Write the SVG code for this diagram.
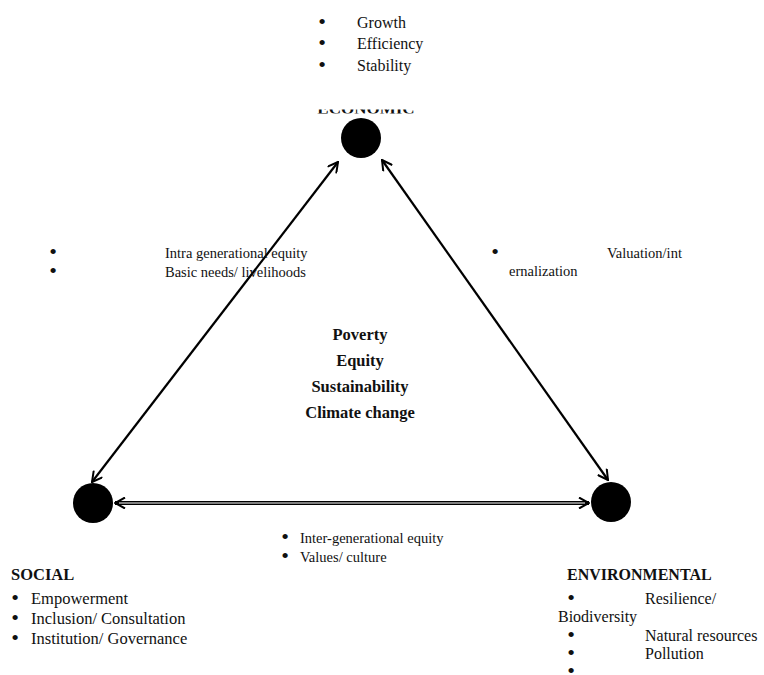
<svg xmlns="http://www.w3.org/2000/svg" width="764" height="675" viewBox="0 0 764 675">
<style>
text{font-family:"Liberation Serif","Times New Roman",serif;fill:#111}
.t16{font-size:16px}
.t14{font-size:14.5px}
.b{font-weight:bold}
.bu{font-size:22px;text-anchor:middle}
.node{fill:#000}
.conn{stroke:#000;stroke-width:2.2;fill:none}
</style>
<defs>
<marker id="ah" viewBox="0 0 12 12" refX="11" refY="6" markerWidth="12" markerHeight="12" markerUnits="userSpaceOnUse" orient="auto-start-reverse">
<path d="M1,0.5 L11,6 L1,11.5" fill="none" stroke="#000" stroke-width="2"/>
</marker>
<clipPath id="ecoClip"><rect x="300" y="109.5" width="140" height="4"/></clipPath>
</defs>
<rect width="764" height="675" fill="#fff"/>

<g id="connectors">
<line class="conn" x1="338" y1="162" x2="92" y2="482" marker-start="url(#ah)" marker-end="url(#ah)"/>
<line class="conn" x1="382" y1="160" x2="608" y2="480" marker-start="url(#ah)" marker-end="url(#ah)"/>
<line x1="115" y1="503" x2="589" y2="503" stroke="#000" stroke-width="4" marker-start="url(#ah)" marker-end="url(#ah)"/>
<line x1="119" y1="503" x2="585" y2="503" stroke="#fff" stroke-width="1.2"/>
</g>

<g id="economic">
<circle class="node" cx="361" cy="138" r="20"/>
<text class="b" x="366" y="113.5" text-anchor="middle" font-size="17" clip-path="url(#ecoClip)">ECONOMIC</text>
<text class="bu" x="322" y="29">•</text><text class="t16" x="357" y="28">Growth</text>
<text class="bu" x="322" y="50">•</text><text class="t16" x="357" y="49">Efficiency</text>
<text class="bu" x="322" y="72">•</text><text class="t16" x="357" y="71">Stability</text>
</g>

<g id="social">
<circle class="node" cx="93" cy="503" r="20"/>
<text class="b" x="11" y="580" font-size="16.5">SOCIAL</text>
<text class="bu" x="15" y="605">•</text><text x="31" y="604" style="font-size:16.5px">Empowerment</text>
<text class="bu" x="15" y="625">•</text><text x="31" y="624" style="font-size:16.5px">Inclusion/ Consultation</text>
<text class="bu" x="15" y="645">•</text><text x="31" y="644" style="font-size:16.5px">Institution/ Governance</text>
</g>

<g id="environmental">
<circle class="node" cx="611" cy="502" r="20"/>
<text class="b" x="567" y="580" font-size="16">ENVIRONMENTAL</text>
<text class="bu" x="571" y="605">•</text><text class="t16" x="645" y="604">Resilience/</text>
<text class="t16" x="558" y="622">Biodiversity</text>
<text class="bu" x="571" y="642">•</text><text class="t16" x="645" y="641">Natural resources</text>
<text class="bu" x="571" y="660">•</text><text class="t16" x="645" y="659">Pollution</text>
<text class="bu" x="571" y="678">•</text>
</g>

<g id="label-econ-social">
<text class="bu" x="53" y="259">•</text><text class="t14" x="165" y="258">Intra generational equity</text>
<text class="bu" x="53" y="278">•</text><text class="t14" x="165" y="277">Basic needs/ livelihoods</text>
</g>

<g id="label-econ-env">
<text class="bu" x="495" y="259">•</text><text class="t14" x="607" y="258">Valuation/int</text>
<text class="t14" x="509" y="276">ernalization</text>
</g>

<g id="label-social-env">
<text class="bu" x="285" y="544">•</text><text class="t14" x="300" y="543">Inter-generational equity</text>
<text class="bu" x="285" y="563">•</text><text class="t14" x="300" y="562">Values/ culture</text>
</g>

<g id="center">
<text class="b" x="360" y="340" text-anchor="middle" style="font-size:16.5px">Poverty</text>
<text class="b" x="360" y="366" text-anchor="middle" style="font-size:16.5px">Equity</text>
<text class="b" x="360" y="392" text-anchor="middle" style="font-size:16.5px">Sustainability</text>
<text class="b" x="360" y="418" text-anchor="middle" style="font-size:16.5px">Climate change</text>
</g>
</svg>
